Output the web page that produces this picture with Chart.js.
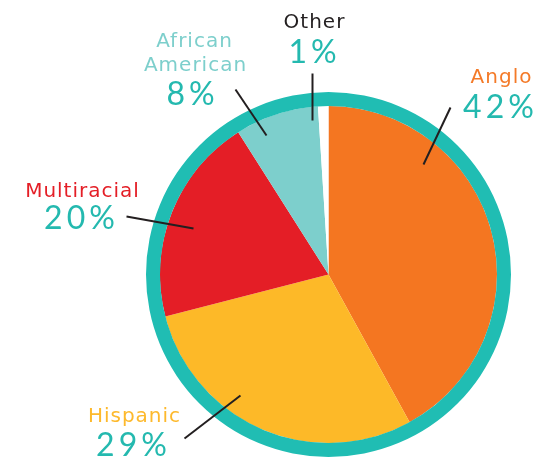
<!DOCTYPE html>
<html>
<head>
<meta charset="utf-8">
<script src="https://cdn.jsdelivr.net/npm/chart.js@4.4.1/dist/chart.umd.min.js"></script>
<style>
  html, body { margin: 0; padding: 0; background: #ffffff; }
  #wrap { width: 542px; height: 458px; }
</style>
</head>
<body>
<div id="wrap"><canvas id="pieChart" width="542" height="458"></canvas></div>
<script>
// data
const groups = ['Anglo', 'Hispanic', 'Multiracial', 'African American', 'Other'];
const shares = [42, 29, 20, 8, 1];
const shareLabels = ['42%', '29%', '20%', '8%', '1%'];

const sliceColors = ['#F47621', '#FDB928', '#E41E26', '#7DCFCC', '#FFFFFF'];
const nameColors = ['#F47A28', '#FDB92C', '#E41E26', '#7DCFCC', '#231F20'];
const ringColor = '#20BDB3';
const pctColor = '#24B9AF';

// annotation layout, offsets in px from the pie centre
// line: [x1, y1, x2, y2], names: [[text, dx, dy]...], pct: [dx, dy]
const callouts = [
  { line: [95, -110, 122, -167], names: [['Anglo', 173, -192]], pct: [172, -157] },
  { line: [-88, 121, -144, 164], names: [['Hispanic', -194, 147]], pct: [-195, 181] },
  { line: [-135, -46, -202, -58], names: [['Multiracial', -246, -78]], pct: [-247, -46] },
  { line: [-62, -139, -93, -185], names: [['African', -134, -228], ['American', -133, -204]], pct: [-136, -170] },
  { line: [-16, -154, -16, -201], names: [['Other', -14, -247]], pct: [-14, -212] }
];

const calloutPlugin = {
  id: 'callouts',
  afterDraw(chart) {
    const ctx = chart.ctx;
    const arc = chart.getDatasetMeta(1).data[0];
    const cx = arc.x, cy = arc.y;
    ctx.save();
    callouts.forEach((c, i) => {
      // leader line
      ctx.strokeStyle = '#231F20';
      ctx.lineWidth = 2;
      ctx.beginPath();
      ctx.moveTo(cx + c.line[0], cy + c.line[1]);
      ctx.lineTo(cx + c.line[2], cy + c.line[3]);
      ctx.stroke();

      ctx.textAlign = 'center';
      ctx.textBaseline = 'alphabetic';

      ctx.fillStyle = nameColors[i];
      ctx.font = '20px "DejaVu Sans"';
      ctx.letterSpacing = '1px';
      c.names.forEach(n => ctx.fillText(n[0], cx + n[1], cy + n[2]));

      ctx.fillStyle = pctColor;
      ctx.font = '32px Lato';
      ctx.letterSpacing = '4px';
      ctx.fillText(shareLabels[i], cx + c.pct[0], cy + c.pct[1]);
    });
    ctx.restore();
  }
};

new Chart(document.getElementById('pieChart'), {
  type: 'pie',
  data: {
    labels: groups,
    datasets: [
      {
        // outer teal ring
        data: [1],
        backgroundColor: [ringColor],
        borderWidth: 0,
        weight: 14
      },
      {
        data: shares,
        backgroundColor: sliceColors,
        borderWidth: 0,
        weight: 168.5
      }
    ]
  },
  options: {
    responsive: false,
    devicePixelRatio: 1,
    animation: false,
    layout: { padding: { top: 92, bottom: 1, left: 146, right: 31 } },
    plugins: {
      legend: { display: false },
      tooltip: { enabled: false }
    }
  },
  plugins: [calloutPlugin]
});
</script>
</body>
</html>
